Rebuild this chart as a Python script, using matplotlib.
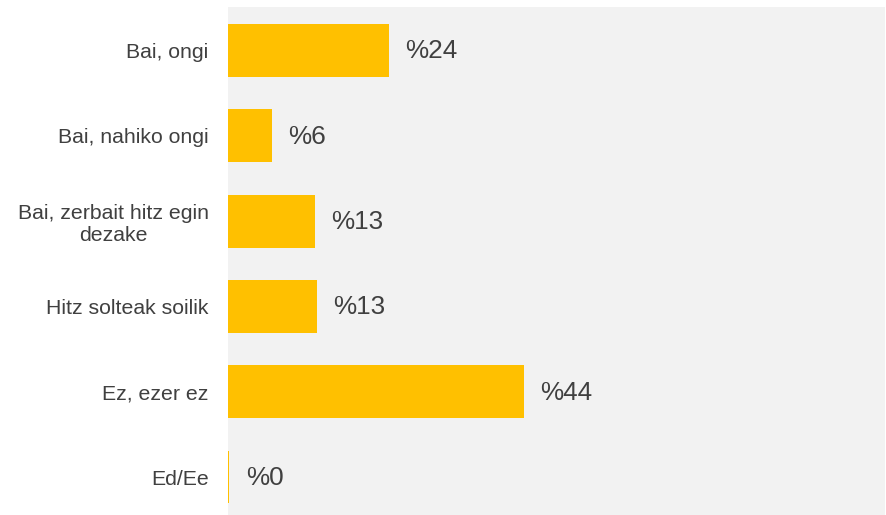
import matplotlib
matplotlib.use("Agg")
import matplotlib.pyplot as plt

plt.rcParams['font.family'] = ['Liberation Sans', 'DejaVu Sans']

categories = ["Bai, ongi", "Bai, nahiko ongi", "Bai, zerbait hitz egin\ndezake",
              "Hitz solteak soilik", "Ez, ezer ez", "Ed/Ee"]
values = [24.0, 6.5, 12.9, 13.2, 44.1, 0.2]

bar_color = "#FFC000"
panel_color = "#F2F2F2"
text_color = "#404040"

W, H = 886, 515
fig = plt.figure(figsize=(W / 100, H / 100), dpi=100)
fig.patch.set_facecolor("white")
ax = fig.add_axes([228 / W, 0, 657 / W, 508 / H])
ax.set_facecolor(panel_color)

y = list(range(len(categories)))
ax.barh(y, values, height=0.62, color=bar_color, edgecolor="none")

for yi, v in zip(y, values):
    ax.text(v + 2.45, yi + 0.01, f"%{v:.0f}", va="center", ha="left",
            fontsize=18.8, color=text_color)

ax.set_xlim(0, 97.9)
ax.set_ylim(5.445, -0.51)
ax.set_yticks(y)
ax.set_yticklabels(categories, fontsize=15.3, color=text_color)
for lbl in ax.get_yticklabels():
    lbl.set_multialignment("center")
    lbl.set_linespacing(1.2)
ax.tick_params(axis="y", length=0, pad=14)
ax.set_xticks([])
for s in ax.spines.values():
    s.set_visible(False)

fig.savefig("out.png", dpi=100, facecolor="white")
